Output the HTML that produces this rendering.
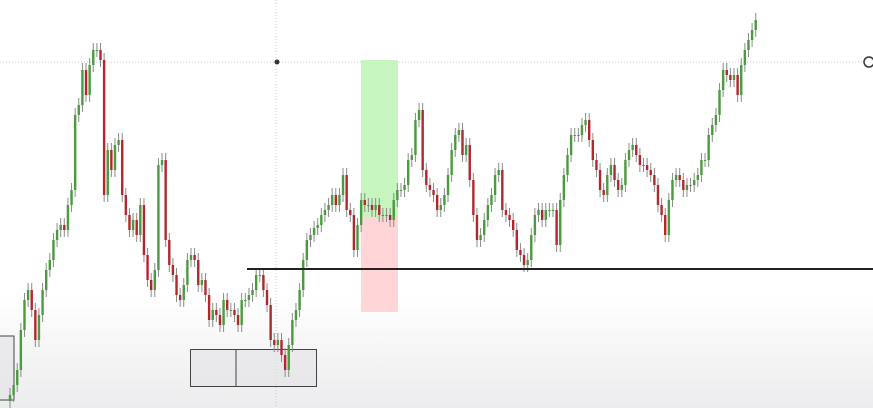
<!DOCTYPE html>
<html><head><meta charset="utf-8"><style>
html,body{margin:0;padding:0;width:873px;height:408px;overflow:hidden;font-family:"Liberation Sans",sans-serif}
svg{display:block}
</style></head><body>
<svg id="chart" width="873" height="408" viewBox="0 0 873 408">
<defs><linearGradient id="bg" x1="0" y1="0" x2="0" y2="1">
<stop offset="0" stop-color="#ffffff"/><stop offset="0.72" stop-color="#ffffff"/><stop offset="1" stop-color="#ececee"/></linearGradient></defs>
<rect x="0" y="0" width="873" height="408" fill="url(#bg)"/>
<line x1="0" y1="62" x2="873" y2="62" stroke="#c8c8cc" stroke-dasharray="1,2"/>
<line x1="276" y1="0" x2="276" y2="408" stroke="#c8c8cc" stroke-dasharray="1,2"/>
<rect x="361" y="60" width="37" height="157" fill="#c6f5c0"/>
<rect x="361" y="217" width="37" height="95" fill="#ffd5d8"/>
<rect x="-1" y="336" width="15" height="64" fill="#e2e2e6" fill-opacity="0.6" stroke="#444" stroke-width="1"/>
<rect x="190.5" y="349.5" width="126" height="37" fill="#e2e2e6" fill-opacity="0.6" stroke="#444" stroke-width="1"/>
<line x1="236" y1="350" x2="236" y2="386" stroke="#444"/>
<g id="candles"></g>
<line x1="247" y1="269" x2="873" y2="269" stroke="#222" stroke-width="2"/>
<circle cx="277" cy="62" r="2.5" fill="#333"/>
<circle cx="869" cy="62" r="5" fill="#fff" stroke="#333" stroke-width="1.5"/>
</svg>
<script>
const closes=[13,23,38,78,108,118,98,68,93,118,138,148,168,178,183,178,203,218,293,303,338,313,343,358,358,348,213,258,238,263,268,213,193,178,188,173,203,153,128,118,138,243,248,168,143,133,113,108,123,148,153,148,123,128,113,88,98,93,83,108,98,98,93,83,108,108,113,118,133,133,118,103,68,63,68,53,38,63,88,98,118,148,168,173,180,183,193,198,203,213,203,213,233,198,193,158,183,208,203,203,198,203,193,193,193,188,208,218,218,223,248,253,288,298,238,223,218,213,198,203,213,233,258,273,278,253,263,228,193,168,173,188,203,213,233,238,198,193,188,178,158,153,143,148,173,193,198,188,198,198,198,163,208,233,253,273,273,273,283,288,268,248,238,218,213,233,243,228,218,223,248,258,263,253,243,243,238,233,223,203,193,173,208,228,233,228,218,223,223,228,233,248,248,273,283,293,318,338,333,328,333,313,343,358,368,378,388];
const firstX=10, stepX=3.62, candleW=2.4, wickSize=7;
const yScale=p=>408-p;
const xScale=i=>firstX+i*stepX;
const g=document.getElementById('candles');
const NS='http://www.w3.org/2000/svg';
for(let i=0;i<closes.length;i++){
  const o=i?closes[i-1]:closes[0]-6, c=closes[i];
  const hi=Math.max(o,c)+wickSize, lo=Math.min(o,c)-wickSize;
  const x=xScale(i);
  const w=document.createElementNS(NS,'line');
  
  
  w.setAttribute('x1',x);w.setAttribute('x2',x);
  w.setAttribute('y1',yScale(hi));w.setAttribute('y2',yScale(lo));
  w.setAttribute('stroke','#8a8a8a');w.setAttribute('stroke-width','1');
  g.appendChild(w);
  const r=document.createElementNS(NS,'rect');
  
  
  const top=yScale(Math.max(o,c)), h=Math.max(1,Math.abs(c-o));
  r.setAttribute('x',x-candleW/2);r.setAttribute('y',top);
  r.setAttribute('width',candleW);r.setAttribute('height',h);
  r.setAttribute('fill',c>=o?'#4a9a3e':'#b3262e');
  g.appendChild(r);
}
</script>
</body></html>
